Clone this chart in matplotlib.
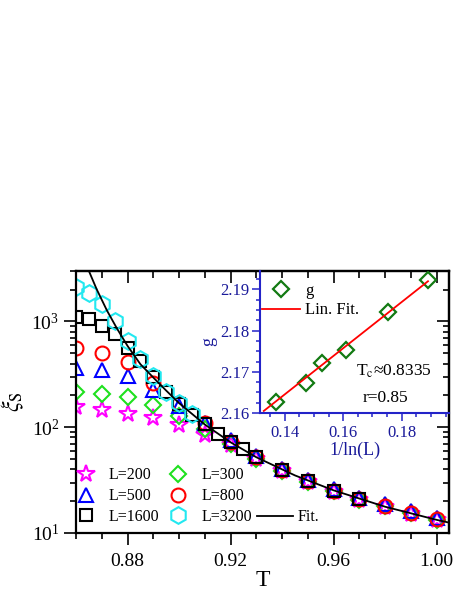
import matplotlib
matplotlib.use('Agg')
import matplotlib.pyplot as plt
from matplotlib.ticker import MultipleLocator, LogLocator, NullFormatter, FormatStrFormatter

plt.rcParams['font.family'] = ['Liberation Serif', 'DejaVu Serif']
plt.rcParams['mathtext.fontset'] = 'stix'

# main panel data: xi_S vs T for each L
T_step01 = [0.86, 0.87, 0.88, 0.89, 0.90, 0.91, 0.92, 0.93, 0.94, 0.95, 0.96, 0.97, 0.98, 0.99, 1.00]
xi_L200 = [155, 144, 132, 122, 104, 85, 68, 50, 38.5, 30.3, 24.6, 20.4, 17.7, 15.2, 13.3]
xi_L300 = [215, 207, 193, 164, 127, 97, 70, 50.5, 38.8, 30.6, 24.8, 20.5, 17.8, 15.3, 13.3]
xi_L500 = [366, 348, 302, 225, 158, 110, 75, 53.5, 40.5, 32, 26, 21.5, 18.7, 16.1, 14.0]
xi_L800 = [565, 507, 413, 262, 168, 109, 73, 52, 39.3, 31, 25.1, 20.8, 18.0, 15.5, 13.5]

T_L1600 = [0.86, 0.865, 0.87, 0.875, 0.88, 0.885, 0.89, 0.895, 0.90, 0.905,
           0.91, 0.915, 0.92, 0.925, 0.93, 0.94, 0.95, 0.96, 0.97]
xi_L1600 = [1097, 1044, 916, 765, 560, 420, 300, 217, 167, 131,
            108, 87.2, 72.6, 61.6, 51.8, 39.3, 31.0, 25.1, 20.8]

T_L3200 = [0.86, 0.865, 0.87, 0.875, 0.88, 0.885, 0.89, 0.895, 0.90, 0.905]
xi_L3200 = [2107, 1866, 1469, 1007, 647, 438, 305, 217, 168, 132]

# fit curve
T_fit = [0.864, 0.865, 0.868, 0.872, 0.876, 0.880, 0.885, 0.890, 0.895, 0.900,
         0.910, 0.920, 0.930, 0.945, 0.960, 0.980, 1.000, 1.005]
xi_fit = [3440, 3000, 2020, 1270, 849, 587, 394, 295, 222, 169,
          106, 72, 52, 35, 25.3, 17.7, 13.3, 12.5]

# inset data: g vs 1/ln(L)
inv_lnL = [0.1369, 0.1471, 0.1528, 0.1609, 0.1754, 0.1890]
g_vals = [2.1627, 2.1672, 2.1722, 2.1754, 2.1846, 2.1923]
lin_x = [0.1328, 0.1890]
lin_y = [2.1605, 2.1920]

navy = '#1a1a9a'
blue_spine = '#2323c8'

fig = plt.figure(figsize=(4.58, 5.92), dpi=100)
ax = fig.add_axes([0.166, 0.0997, 0.814, 0.4425])

mew = 1.5
h200, = ax.plot(T_step01, xi_L200, ls='none', marker='*', ms=13, mfc='none', mec='#ff00ff', mew=mew, label='L=200')
h300, = ax.plot(T_step01, xi_L300, ls='none', marker='D', ms=8.5, mfc='none', mec='#1ee01e', mew=mew, label='L=300')
h500, = ax.plot(T_step01, xi_L500, ls='none', marker='^', ms=10.5, mfc='none', mec='#0000ff', mew=mew, label='L=500')
h800, = ax.plot(T_step01, xi_L800, ls='none', marker='o', ms=10, mfc='none', mec='#ff0000', mew=mew, label='L=800')
h1600, = ax.plot(T_L1600, xi_L1600, ls='none', marker='s', ms=9, mfc='none', mec='black', mew=mew, label='L=1600')
h3200, = ax.plot(T_L3200, xi_L3200, ls='none', marker='h', ms=12, mfc='none', mec='#22e8f0', mew=mew, label='L=3200')
hfit, = ax.plot(T_fit, xi_fit, color='black', lw=1.3, label='Fit.')

ax.set_yscale('log')
ax.set_xlim(0.86, 1.0047)
ax.set_ylim(10, 3000)
ax.set_xticks([0.88, 0.92, 0.96, 1.00])
ax.xaxis.set_major_formatter(FormatStrFormatter('%.2f'))
ax.xaxis.set_minor_locator(MultipleLocator(0.01))
ax.yaxis.set_minor_locator(LogLocator(base=10, subs=range(2, 10)))
ax.yaxis.set_minor_formatter(NullFormatter())
ax.tick_params(which='major', direction='out', length=8.5, width=1.2, labelsize=14)
ax.tick_params(axis='x', which='major', pad=6)
ax.tick_params(which='minor', direction='out', length=4.3, width=1.2)
for s in ax.spines.values():
    s.set_linewidth(1.6)

# mirrored ticks pointing inward
secx = ax.secondary_xaxis('top')
secx.set_xticks([0.88, 0.92, 0.96, 1.00])
secx.xaxis.set_minor_locator(MultipleLocator(0.01))
secx.tick_params(which='major', direction='in', length=8.5, width=1.2, labeltop=False)
secx.tick_params(which='minor', direction='in', length=5, width=1.2)
secx.spines['top'].set_linewidth(1.6)
secy = ax.secondary_yaxis('right')
secy.yaxis.set_minor_locator(LogLocator(base=10, subs=range(2, 10)))
secy.yaxis.set_minor_formatter(NullFormatter())
secy.tick_params(which='major', direction='in', length=8.5, width=1.2, labelright=False)
secy.tick_params(which='minor', direction='in', length=4.3, width=1.2)
secy.spines['right'].set_linewidth(1.6)

ax.set_xlabel('T', fontsize=17, labelpad=0)
ax.set_ylabel(r'$\xi_\mathrm{S}$', fontsize=17, labelpad=4)

leg1 = ax.legend(handles=[h200, h500, h1600, h300, h800, h3200], ncol=2, loc='upper left',
                 bbox_to_anchor=(0.005, 0.25), frameon=False, fontsize=11.5,
                 handlelength=1.0, handletextpad=0.95, columnspacing=0.65,
                 labelspacing=0.3, borderpad=0, borderaxespad=0)
ax.add_artist(leg1)
ax.legend(handles=[hfit], loc='lower left', bbox_to_anchor=(0.485, 0.03), frameon=False,
          fontsize=11.5, handlelength=2.25, handletextpad=0.3, borderpad=0, borderaxespad=0)

# inset
axi = fig.add_axes([0.5677, 0.3024, 0.4127, 0.2399])
axi.patch.set_alpha(0)
axi.plot(inv_lnL, g_vals, ls='none', marker='D', ms=8.5, mfc='none', mec='#127a12', mew=1.6, label='g')
axi.plot(lin_x, lin_y, color='#ff0000', lw=1.3, label='Lin. Fit.')
axi.set_xlim(0.1315, 0.1962)
axi.set_ylim(2.16, 2.1945)
axi.set_xticks([0.14, 0.16, 0.18])
axi.set_yticks([2.16, 2.17, 2.18, 2.19])
axi.xaxis.set_major_formatter(FormatStrFormatter('%.2f'))
axi.yaxis.set_major_formatter(FormatStrFormatter('%.2f'))
axi.xaxis.set_minor_locator(MultipleLocator(0.005))
axi.yaxis.set_minor_locator(MultipleLocator(0.0025))
axi.tick_params(which='major', direction='out', length=5.5, width=1.1, colors=blue_spine,
                labelcolor=navy, labelsize=12, pad=2)
axi.tick_params(axis='x', which='major', pad=3)
axi.tick_params(which='minor', direction='out', length=3, width=1.1, colors=blue_spine)
axi.spines['top'].set_visible(False)
axi.spines['right'].set_visible(False)
axi.spines['left'].set_color(blue_spine)
axi.spines['bottom'].set_color(blue_spine)
axi.spines['left'].set_linewidth(1.5)
axi.spines['bottom'].set_linewidth(1.5)
axi.set_xlabel('1/ln(L)', fontsize=13, color=navy, labelpad=1)
axi.set_ylabel('g', fontsize=13, color=navy, labelpad=2)
axi.legend(loc='upper left', bbox_to_anchor=(0.01, 0.915), frameon=False, fontsize=12,
           handlelength=2.3, handletextpad=0.3, labelspacing=0.2, borderpad=0, borderaxespad=0)
axi.text(0.51, 0.29, r'T$_\mathrm{c}$≈0.8335', transform=axi.transAxes, fontsize=12.5, va='center')
axi.text(0.545, 0.108, 'r=0.85', transform=axi.transAxes, fontsize=12.5, va='center')

fig.savefig('out.png', dpi=100)
